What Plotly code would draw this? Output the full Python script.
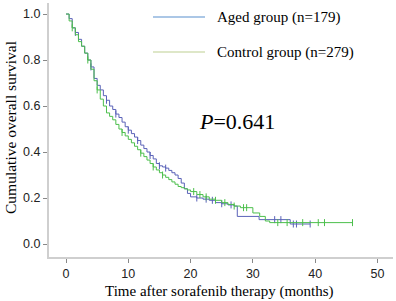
import numpy as np
import plotly.graph_objects as go

# ---- data ----
aged_t = [0, 0.5, 1, 1.5, 2, 2.5, 3, 3.5, 4, 4.5, 5, 5.5, 6, 6.5, 7, 7.5, 8, 8.5, 9, 9.5,
          10, 10.5, 11, 11.5, 12, 12.5, 13, 13.5, 14, 14.5, 15, 15.5, 16, 16.5, 17, 17.5,
          18, 18.5, 19, 19.5, 20, 21, 22, 23, 24, 25, 26, 27, 27.5, 31, 36, 39.2]
aged_s = [1.0, 0.98, 0.94, 0.92, 0.89, 0.86, 0.83, 0.80, 0.77, 0.72, 0.69, 0.67, 0.645, 0.625,
          0.60, 0.585, 0.565, 0.55, 0.53, 0.51, 0.495, 0.48, 0.465, 0.45, 0.43, 0.415, 0.40,
          0.385, 0.37, 0.35, 0.34, 0.335, 0.33, 0.32, 0.31, 0.30, 0.285, 0.265, 0.24, 0.22,
          0.205, 0.20, 0.195, 0.19, 0.18, 0.175, 0.17, 0.165, 0.12, 0.106, 0.087, 0.087]
aged_cens = [1.5, 4, 6.5, 8, 10, 11.5, 13.5, 15, 16, 21, 22.5, 23.5, 25, 26.5,
             33.5, 34.5, 36.5, 37, 39.2]

ctrl_t = [0, 0.5, 1, 1.5, 2, 2.5, 3, 3.5, 4, 4.5, 5, 5.5, 6, 6.5, 7, 7.5, 8, 8.5, 9, 9.5,
          10, 10.5, 11, 11.5, 12, 12.5, 13, 13.5, 14, 14.5, 15, 15.5, 16, 16.5, 17, 17.5,
          18, 18.5, 19, 19.5, 20, 21, 22, 23, 24, 25, 26, 27, 28, 30, 31.1, 32, 32.7, 46]
ctrl_s = [1.0, 0.97, 0.94, 0.91, 0.88, 0.86, 0.83, 0.80, 0.76, 0.71, 0.67, 0.63, 0.60, 0.57,
          0.555, 0.54, 0.52, 0.50, 0.485, 0.47, 0.455, 0.44, 0.425, 0.41, 0.395, 0.38, 0.365,
          0.35, 0.335, 0.322, 0.31, 0.30, 0.29, 0.28, 0.27, 0.26, 0.25, 0.245, 0.24, 0.235,
          0.228, 0.215, 0.205, 0.195, 0.19, 0.18, 0.172, 0.165, 0.158, 0.135, 0.12, 0.10,
          0.093, 0.093]
ctrl_cens = [1, 3.5, 5, 9, 12, 14, 15.5, 20.5, 21.5, 22.5, 24, 25.5, 27, 28.5, 29,
             34, 35.5, 38, 40.5, 41.5, 46]

x_ticks = [0, 10, 20, 30, 40, 50]
y_ticks = [0.0, 0.2, 0.4, 0.6, 0.8, 1.0]
y_tick_text = ["0.0", "0.2", "0.4", "0.6", "0.8", "1.0"]

series = [
    ("Aged group (n=179)", aged_t, aged_s, aged_cens, "#5a62b8", "#8fb4de"),
    ("Control group (n=279)", ctrl_t, ctrl_s, ctrl_cens, "#4cbf4c", "#d3dfb6"),
]

W, H = 396, 301
L, R, T, B = 49, 3, 3, 44
pw, ph = W - L - R, H - T - B


def px(x):
    return (x - L) / pw


def py(y):
    return (H - B - y) / ph


fig = go.Figure()
for name, t, s, cens, col, _ in series:
    fig.add_trace(go.Scatter(x=t, y=s, mode="lines", line=dict(color=col, width=1, shape="hv"),
                             showlegend=False, name=name))
    idx = np.searchsorted(np.array(t), np.array(cens), side="right") - 1
    cy = np.array(s)[idx]
    fig.add_trace(go.Scatter(x=cens, y=cy, mode="markers", showlegend=False,
                             marker=dict(symbol="line-ns", size=5,
                                         line=dict(color=col, width=1))))

shapes = []
annotations = []
leg_y = [17, 52]
for (name, _, _, _, _, lcol), yy in zip(series, leg_y):
    shapes.append(dict(type="line", xref="paper", yref="paper", x0=px(153), x1=px(205),
                       y0=py(yy), y1=py(yy), line=dict(color=lcol, width=1.5)))
    annotations.append(dict(text=name, xref="paper", yref="paper", x=px(215), y=py(yy),
                            xanchor="left", yanchor="middle", showarrow=False,
                            font=dict(family="Liberation Serif", size=15, color="#000")))

annotations.append(dict(text="<i>P</i>=0.641", xref="paper", yref="paper", x=px(197), y=py(122),
                        xanchor="left", yanchor="middle", showarrow=False,
                        font=dict(family="Liberation Serif", size=22, color="#000")))
annotations.append(dict(text="Cumulative overall survival", xref="paper", yref="paper",
                        x=px(10), y=py(128), xanchor="center", yanchor="middle", textangle=-90,
                        showarrow=False, font=dict(family="Liberation Serif", size=15.5, color="#000")))
annotations.append(dict(text="Time after sorafenib therapy (months)", xref="paper", yref="paper",
                        x=px(219), y=py(291), xanchor="center", yanchor="middle",
                        showarrow=False, font=dict(family="Liberation Serif", size=15, color="#000")))

fig.update_layout(
    width=W, height=H,
    margin=dict(l=L, r=R, t=T, b=B),
    paper_bgcolor="white", plot_bgcolor="white",
    shapes=shapes, annotations=annotations,
    xaxis=dict(range=[-2.73, 52.5], tickvals=x_ticks, showgrid=False, zeroline=False,
               showline=True, linecolor="#cfcfcf", linewidth=2, ticks="outside",
               tickcolor="#888", ticklen=4, tickwidth=1,
               tickfont=dict(family="Liberation Sans", size=12.5, color="#222")),
    yaxis=dict(range=[-0.0565, 1.048], tickvals=y_ticks, ticktext=y_tick_text, showgrid=False,
               zeroline=False, showline=True, linecolor="#cfcfcf", linewidth=2, ticks="outside",
               tickcolor="#888", ticklen=4, tickwidth=1,
               tickfont=dict(family="Liberation Sans", size=12.5, color="#222")),
)

fig.write_html("out.html", config={"displayModeBar": False},
               post_script="document.body.style.margin='0px';document.body.style.overflow='hidden';")
